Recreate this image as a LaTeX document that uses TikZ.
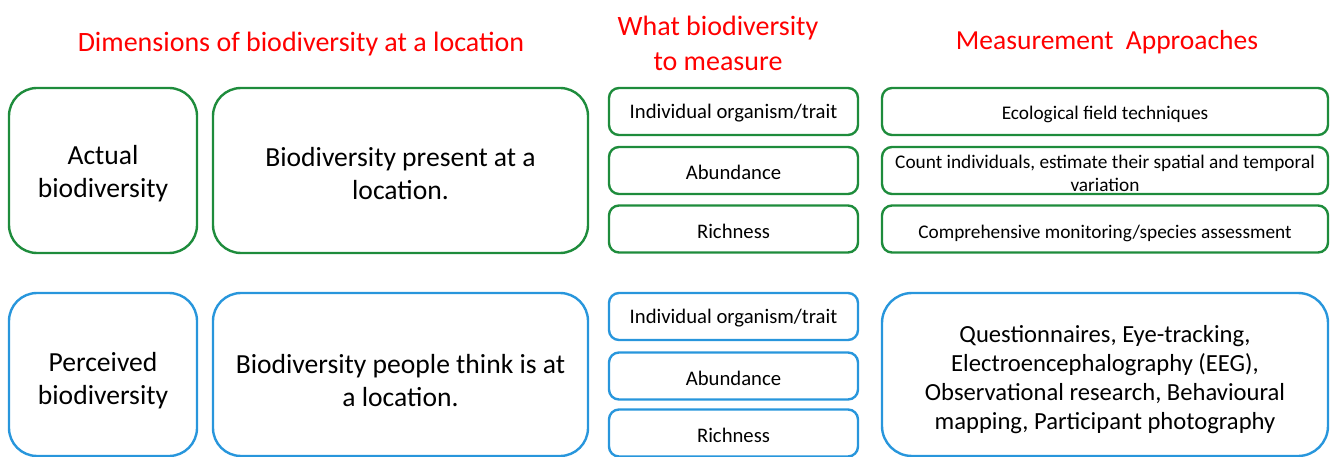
\documentclass[tikz,border=0pt]{standalone}
\usepackage{fontspec}
\setmainfont{Carlito}
\definecolor{boxgreen}{RGB}{30,140,60}
\definecolor{boxblue}{RGB}{40,150,220}
\definecolor{titlered}{RGB}{255,0,0}
\begin{document}
\begin{tikzpicture}[x=1pt,y=-1pt,
  box/.style={draw, line width=2.4pt, inner sep=0pt},
  gbox/.style={box, draw=boxgreen},
  bbox/.style={box, draw=boxblue},
  bigbox/.style={rounded corners=28pt, minimum width=#1, minimum height=165pt},
  smallbox/.style={rounded corners=10pt, minimum width=249pt, minimum height=47pt},
  appbox/.style={rounded corners=10pt, minimum width=446pt, minimum height=47pt},
  txt/.style={align=center, inner sep=0pt},
  bigtxt/.style={txt, font=\fontsize{27.6}{33.5}\selectfont},
  smalltxt/.style={txt, font=\fontsize{20.7}{24}\selectfont},
  apptxt/.style={txt, font=\fontsize{19.3}{22.5}\selectfont},
  title/.style={txt, text=titlered, font=\fontsize{28}{35}\selectfont},
]
\useasboundingbox (0,0) rectangle (1331,457);
% titles
\node[title] (t1) at (301,44.5) {Dimensions of biodiversity at a location};
\node[title] (t2) at (718,43) {What biodiversity\\to measure};
\node[title, font=\fontsize{27.5}{35}\selectfont] (t3) at (1107,42) {Measurement\ \ Approaches};
% top row (actual)
\node[gbox, bigbox=188pt] (act) at (103,170.5) {};
\node[gbox, bigbox=375pt] (actdesc) at (400.5,170.5) {};
\node[gbox, smallbox] (ga1) at (733.5,111.5) {};
\node[gbox, smallbox] (ga2) at (733.5,170.5) {};
\node[gbox, smallbox] (ga3) at (733.5,229) {};
\node[gbox, appbox] (gm1) at (1105,111.5) {};
\node[gbox, appbox] (gm2) at (1105,170.5) {};
\node[gbox, appbox] (gm3) at (1105,229) {};
\node[bigtxt] (actT) at ([yshift=-3pt]act.center) {Actual\\biodiversity};
\node[bigtxt] (actdescT) at ([yshift=-3pt]actdesc.center) {Biodiversity present at a\\location.};
\node[smalltxt] (ga1T) at ([yshift=-2pt]ga1.center) {Individual organism/trait};
\node[smalltxt] (ga2T) at ([yshift=-2pt]ga2.center) {Abundance};
\node[smalltxt] (ga3T) at ([yshift=-2pt]ga3.center) {Richness};
\node[apptxt] (gm1T) at ([yshift=-3pt]gm1.center) {Ecological field techniques};
\node[apptxt] (gm2T) at ([yshift=-3pt]gm2.center) {Count individuals, estimate their spatial and temporal\\variation};
\node[apptxt] (gm3T) at ([yshift=-4pt]gm3.center) {Comprehensive monitoring/species assessment};
% bottom row (perceived)
\node[bbox, bigbox=188pt, minimum height=163pt] (per) at (103,374.5) {};
\node[bbox, bigbox=375pt, minimum height=163pt] (perdesc) at (400.5,374.5) {};
\node[bbox, smallbox] (bp1) at (733.5,316.5) {};
\node[bbox, smallbox] (bp2) at (733.5,376) {};
\node[bbox, smallbox] (bp3) at (733.5,433) {};
\node[bbox, rounded corners=30pt, minimum width=446pt, minimum height=163pt] (pm) at (1105,374.5) {};
\node[bigtxt] (perT) at ([yshift=-6pt]per.center) {Perceived\\biodiversity};
\node[bigtxt] (perdescT) at ([yshift=-6pt]perdesc.center) {Biodiversity people think is at\\a location.};
\node[smalltxt] (bp1T) at ([yshift=-2pt]bp1.center) {Individual organism/trait};
\node[smalltxt] (bp2T) at ([yshift=-2pt]bp2.center) {Abundance};
\node[smalltxt] (bp3T) at ([yshift=-2pt]bp3.center) {Richness};
\node[txt, font=\fontsize{24.6}{29}\selectfont] (pmT) at ([yshift=-5pt]pm.center) {Questionnaires, Eye-tracking,\\Electroencephalography (EEG),\\Observational research, Behavioural\\mapping, Participant photography};
\end{tikzpicture}
\end{document}
